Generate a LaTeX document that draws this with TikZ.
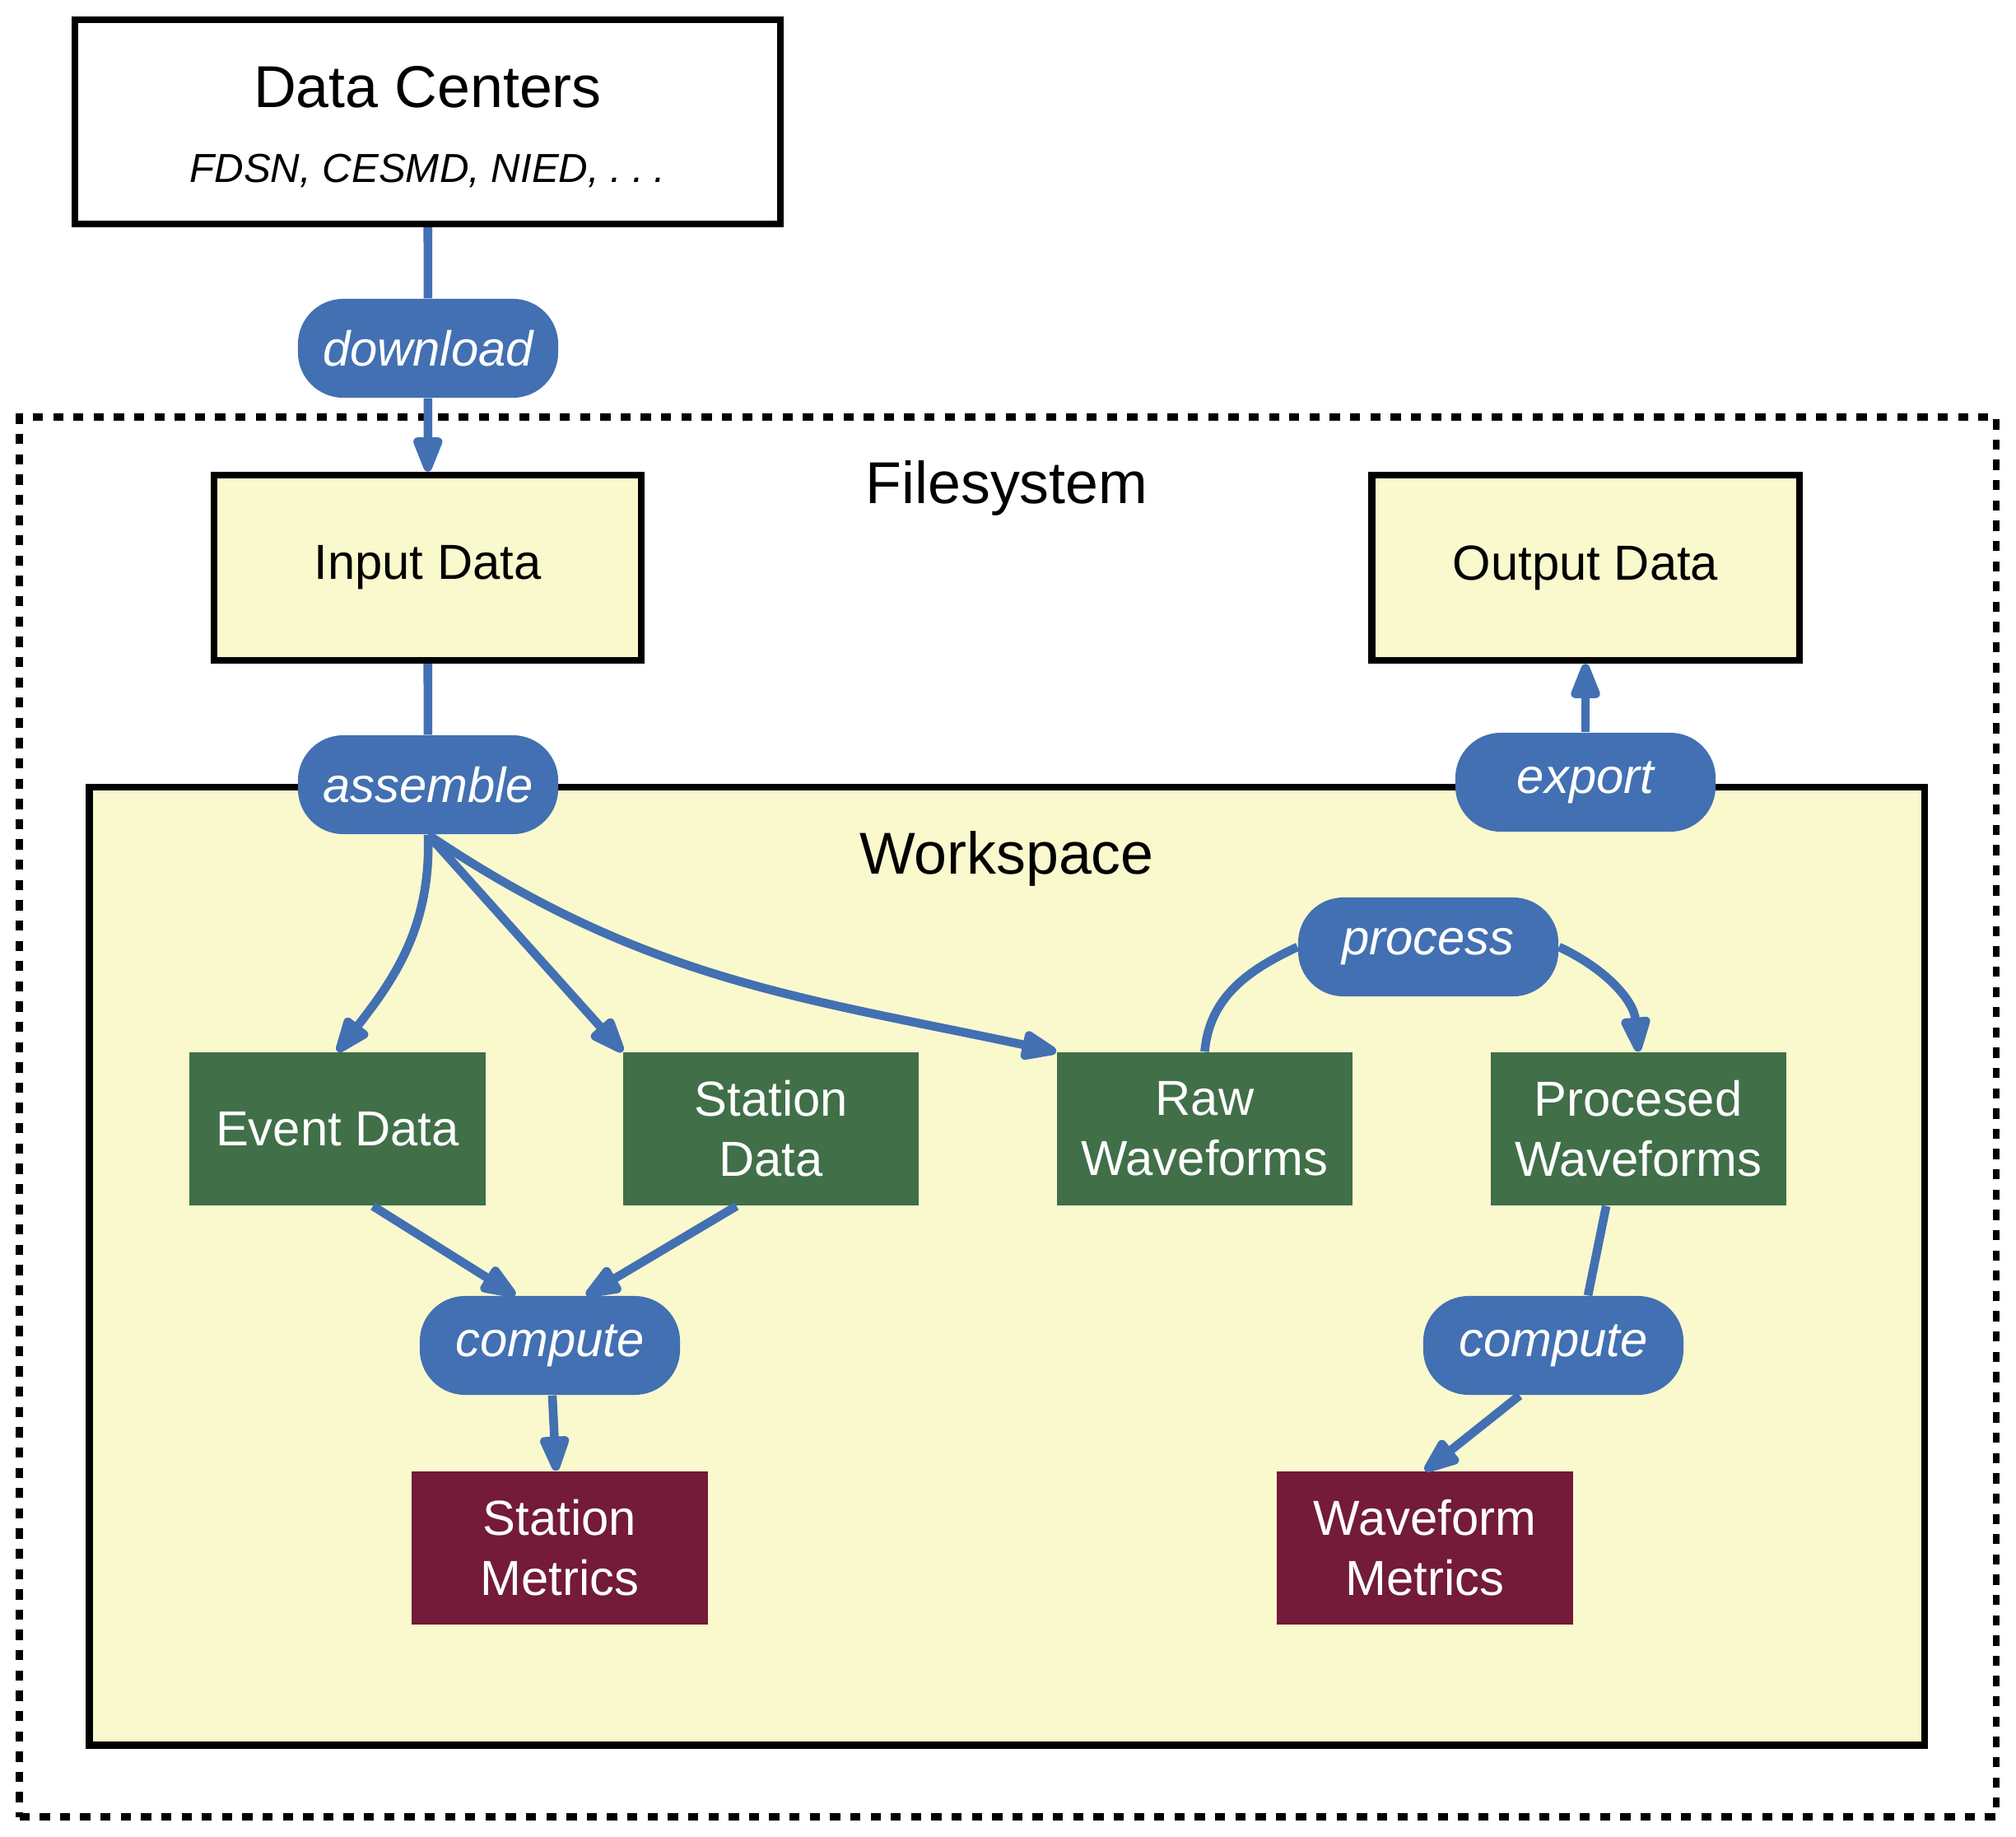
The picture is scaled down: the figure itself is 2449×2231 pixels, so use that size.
\documentclass[tikz,border=0pt]{standalone}
\usepackage{fontspec}
\setmainfont{Liberation Sans}
\usetikzlibrary{arrows.meta}
\usetikzlibrary{positioning}

\definecolor{actblue}{HTML}{4270B2}
\definecolor{wsyellow}{HTML}{FAF9CD}
\definecolor{datagreen}{HTML}{406F48}
\definecolor{metricred}{HTML}{731B38}

\begin{document}
\begin{tikzpicture} [
  x=0.01cm, y=0.01cm,
  every node/.style={inner sep=0},
  titletext/.style={anchor=base, font=\fontsize{20.4}{24}\selectfont},
  srcbox/.style={draw, line width=2.36pt, minimum width=8.56cm, minimum height=2.48cm},
  filebox/.style={draw, fill=wsyellow, line width=2.36pt, minimum width=5.19cm, minimum height=2.25cm, font=\fontsize{17}{20.8}\selectfont},
  databox/.style={fill=datagreen, text=white, align=center, minimum width=3.59cm, minimum height=1.86cm, font=\fontsize{17}{20.8}\selectfont},
  metricbox/.style={databox, fill=metricred},
  action/.style={fill=actblue, text=white, rounded corners=0.55cm, minimum width=3.16cm, minimum height=1.2cm, font=\itshape\fontsize{17}{20.8}\selectfont},
  flow/.style={draw=actblue, line width=3pt},
  flowto/.style={flow, -{Triangle[length=0.52cm, width=0.37cm, round]}}
  ]
  \useasboundingbox (0,0) rectangle (2449,-2231);
  % containers
  \node [draw, line width=2.36pt, dash pattern=on 3.5pt off 3.5pt,
    minimum width=24cm, minimum height=16.99cm] (fs) at (1224.3,-1356.5) {};
  \node [draw, fill=wsyellow, line width=2.36pt,
    minimum width=22.28cm, minimum height=11.63cm] (ws) at (1223,-1537.5) {};
  \node [titletext] (fstitle) at (1223,-612) {Filesystem};
  \node [titletext] (wstitle) at (1223,-1061) {Workspace};

  \node [srcbox] (dc) at (519.5,-148) {};
  \node [titletext] (dctitle) at (519.5,-131) {Data Centers};
  \node [anchor=base, font=\itshape\fontsize{14}{17}\selectfont] (dcsites) at (519.5,-222)
    {FDSN, CESMD, NIED, .\kern0.26em.\kern0.26em.};

  \node [filebox] (indata) at (519.5,-689.5) {Input Data};
  \node [filebox] (outdata) at (1926,-689.5) {Output Data};

  \node [databox] (evt) at (410,-1371) {Event Data};
  \node [databox, right=1.66cm of evt] (stn) {Station\\Data};
  \node [databox, right=1.66cm of stn] (raw) {Raw\\Waveforms};
  \node [databox, right=1.66cm of raw] (pw) {Procesed\\Waveforms};
  \node [metricbox] (sm) at (680,-1880) {Station\\Metrics};
  \node [metricbox] (wm) at (1731,-1880) {Waveform\\Metrics};

  \node [action] (dl) at (520,-423) {download};
  \node [action] (asm) at (520,-953) {assemble};
  \node [action] (exp) at (1926,-950) {export};
  \node [action] (proc) at (1735,-1150) {process};
  \node [action] (cmp1) at (668,-1634) {compute};
  \node [action] (cmp2) at (1887,-1634) {compute};

  \draw [flow] (dc) -- (dl);
  \draw [flowto] (dl) -- (indata);
  \draw [flow] (indata) -- (asm);
  \draw [flowto] (asm.south) to[out=-88, in=52] (evt.north);
  \draw [flowto] (asm.south) -- (stn.north west);
  \draw [flowto] (asm.south) to[out=-34, in=168] (raw.north west);
  \draw [flow] (raw.north) to[out=85, in=205] (proc.west);
  \draw [flowto] (proc.east) to[out=-25, in=95] (pw.north);
  \draw [flowto] ([xshift=0.43cm]evt.south) -- ([xshift=-0.42cm]cmp1.north);
  \draw [flowto] ([xshift=-0.42cm]stn.south) -- ([xshift=0.44cm]cmp1.north);
  \draw [flowto] (cmp1) -- (sm);
  \draw [flow] ([xshift=-0.39cm]pw.south) -- ([xshift=0.42cm]cmp2.north);
  \draw [flowto] ([xshift=-0.41cm]cmp2.south) -- (wm.north);
  \draw [flowto] (exp) -- (outdata);
\end{tikzpicture}
\end{document}
